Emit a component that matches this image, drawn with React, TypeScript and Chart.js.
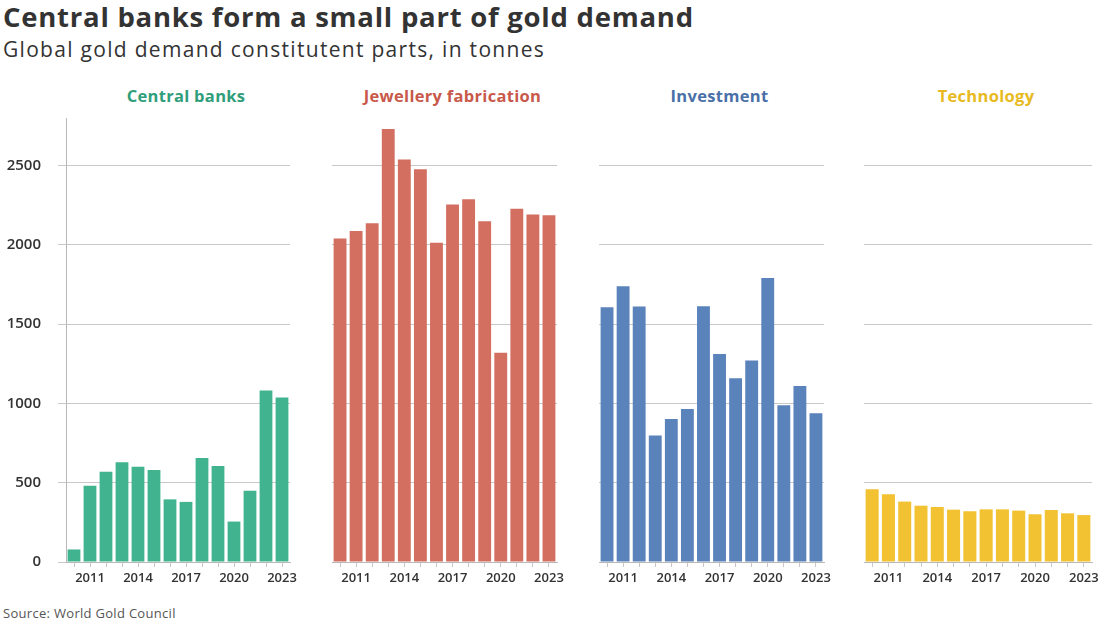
import React, { useEffect, useRef } from "react";
import { Chart, registerables } from "chart.js";

Chart.register(...registerables);

// Years shown on every panel's category axis
const years = ["2010", "2011", "2012", "2013", "2014", "2015", "2016", "2017", "2018", "2019", "2020", "2021", "2022", "2023"];
const labeledYears = ["2011", "2014", "2017", "2020", "2023"];

// Demand by component, tonnes
const centralBanks = [79, 481, 569, 629, 601, 580, 395, 379, 656, 605, 255, 450, 1082, 1037];
const jewellery = [2040, 2088, 2136, 2731, 2538, 2477, 2014, 2254, 2288, 2149, 1320, 2227, 2191, 2187];
const investment = [1606, 1739, 1611, 797, 902, 965, 1613, 1312, 1159, 1270, 1791, 988, 1110, 938];
const technology = [458, 427, 381, 355, 347, 330, 320, 332, 332, 324, 301, 328, 307, 296];

const yTicks = [0, 500, 1000, 1500, 2000, 2500];
const yMax = 2800;

const FONT = "'Open Sans', Lato, sans-serif";

type PanelProps = {
  title: string;
  values: number[];
  color: string;
  titleColor: string;
  showAxis: boolean;
  left: number;
  width: number;
  padLeft: number;
  padRight: number;
  yAxisWidth: number;
};

const CANVAS_TOP = 110;
const CANVAS_HEIGHT = 480;

function Panel(p: PanelProps) {
  const ref = useRef<HTMLCanvasElement | null>(null);

  useEffect(() => {
    if (!ref.current) return;
    const chart = new Chart(ref.current, {
      type: "bar",
      data: {
        labels: years,
        datasets: [
          {
            data: p.values,
            backgroundColor: p.color,
            borderWidth: 0,
            barPercentage: 0.8,
            categoryPercentage: 1,
          },
        ],
      },
      options: {
        animation: false,
        responsive: false,
        maintainAspectRatio: false,
        events: [],
        layout: { padding: { top: 8, left: p.padLeft, right: p.padRight, bottom: 0 } },
        plugins: {
          legend: { display: false },
          tooltip: { enabled: false },
          title: { display: false },
        },
        scales: {
          x: {
            grid: {
              display: true,
              offset: false,
              drawOnChartArea: false,
              drawTicks: true,
              tickLength: 5,
              color: "#c8c8c8",
            },
            border: { display: true, color: "#b8b8b8" },
            ticks: {
              autoSkip: false,
              maxRotation: 0,
              minRotation: 0,
              padding: 3,
              color: "#333333",
              font: { family: FONT, size: 13, weight: "600" },
              callback: (_v: any, i: number) => (labeledYears.includes(years[i]) ? years[i] : ""),
            },
            afterFit: (s: any) => {
              s.height = 28;
              s.paddingLeft = 0;
              s.paddingRight = 0;
            },
          },
          y: {
            min: 0,
            max: yMax,
            afterBuildTicks: (s: any) => {
              s.ticks = yTicks.map((v) => ({ value: v }));
            },
            grid: {
              color: "#c8c8c8",
              drawTicks: p.showAxis,
              tickLength: 8,
            },
            border: { display: p.showAxis, color: "#b8b8b8" },
            ticks: {
              display: p.showAxis,
              padding: 17,
              color: "#333333",
              font: { family: FONT, size: 15, weight: "600" },
              callback: (v: any) => String(v),
            },
            afterFit: (s: any) => {
              s.width = p.yAxisWidth;
              s.paddingTop = 0;
              s.paddingBottom = 0;
            },
          },
        },
      },
    } as any);
    return () => chart.destroy();
  }, []);

  const chartLeft = p.left + p.padLeft + p.yAxisWidth;
  const chartRight = p.left + p.width - p.padRight;
  const center = (chartLeft + chartRight) / 2 + 8;

  return (
    <>
      <div
        style={{
          position: "absolute",
          left: center - 150,
          width: 300,
          top: 85,
          textAlign: "center",
          fontFamily: FONT,
          fontWeight: 700,
          fontSize: 16.5,
          letterSpacing: 0.3,
          color: p.titleColor,
          lineHeight: "22px",
        }}
      >
        {p.title}
      </div>
      <canvas
        ref={ref}
        width={p.width}
        height={CANVAS_HEIGHT}
        style={{
          position: "absolute",
          left: p.left,
          top: CANVAS_TOP,
          width: p.width,
          height: CANVAS_HEIGHT,
        }}
      />
    </>
  );
}

export default function App() {
  return (
    <div
      style={{
        position: "fixed",
        left: 0,
        top: 0,
        width: 1103,
        height: 623,
        overflow: "hidden",
        background: "#ffffff",
        fontFamily: FONT,
      }}
    >
      <div
        style={{
          position: "absolute",
          left: 3,
          top: 0,
          fontSize: 27.5,
          fontWeight: 700,
          letterSpacing: 0.75,
          color: "#333333",
          lineHeight: "34px",
          whiteSpace: "nowrap",
        }}
      >
        Central banks form a small part of gold demand
      </div>
      <div
        style={{
          position: "absolute",
          left: 3,
          top: 35,
          fontSize: 21,
          fontWeight: 400,
          letterSpacing: 1.3,
          color: "#333333",
          lineHeight: "28px",
          whiteSpace: "nowrap",
        }}
      >
        Global gold demand constitutent parts, in tonnes
      </div>

      <Panel
        title="Central banks"
        values={centralBanks}
        color="#41b48f"
        titleColor="#2f9e7a"
        showAxis={true}
        left={0}
        width={315}
        padLeft={0}
        padRight={25}
        yAxisWidth={66}
      />
      <Panel
        title="Jewellery fabrication"
        values={jewellery}
        color="#d36f61"
        titleColor="#c8594b"
        showAxis={false}
        left={307}
        width={275}
        padLeft={25}
        padRight={25}
        yAxisWidth={0}
      />
      <Panel
        title="Investment"
        values={investment}
        color="#5a82bb"
        titleColor="#4a70a8"
        showAxis={false}
        left={574}
        width={275}
        padLeft={25}
        padRight={25}
        yAxisWidth={0}
      />
      <Panel
        title="Technology"
        values={technology}
        color="#f2c232"
        titleColor="#e8ba22"
        showAxis={false}
        left={839}
        width={264}
        padLeft={25}
        padRight={11}
        yAxisWidth={0}
      />

      <div
        style={{
          position: "absolute",
          left: 3,
          top: 604,
          fontSize: 13,
          letterSpacing: 0.3,
          color: "#555555",
          whiteSpace: "nowrap",
        }}
      >
        Source: World Gold Council
      </div>
    </div>
  );
}
